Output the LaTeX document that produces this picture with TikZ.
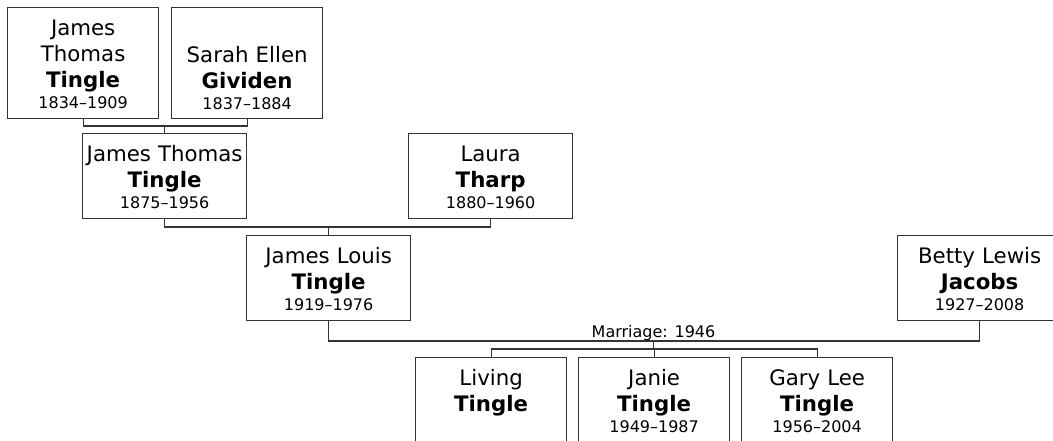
\documentclass[tikz,border=0pt]{standalone}
\usepackage{fontspec}
\setmainfont{DejaVu Sans}
\newcommand{\lifespan}[1]{\\[-5pt]{\fontsize{16}{16}\selectfont #1}}
\begin{document}
\begin{tikzpicture}[x=1pt, y=-1pt, line width=1.3pt,
  every node/.style={font=\fontsize{21.3}{26}\selectfont},
  person/.style={draw=black!80, anchor=north west, inner sep=0pt, align=center, text height=28pt},
  tall/.style={person, text width=151pt, text depth=83pt},
  wide/.style={person, text width=164pt, text depth=57pt},
  child/.style={person, text width=151pt, text depth=70pt},
  link/.style={draw=black!80}]
\useasboundingbox (0,0) rectangle (1053,441); \clip (0,0) rectangle (1053,441);
% grandparents' parents
\node[tall] (jtA) at (7,7) {James\\Thomas\\\textbf{Tingle}\lifespan{1834–1909}};
\node[tall, text height=55pt, text depth=56pt] (seG) at (171,7) {Sarah Ellen\\\textbf{Gividen}\lifespan{1837–1884}};
% grandparents
\node[wide] (jtB) at (82,133) {James Thomas\\\textbf{Tingle}\lifespan{1875–1956}};
\node[wide] (lT) at (408,133) {Laura\\\textbf{Tharp}\lifespan{1880–1960}};
% parents
\node[wide] (jL) at (246,235) {James Louis\\\textbf{Tingle}\lifespan{1919–1976}};
\node[wide] (bJ) at (897,235) {Betty Lewis\\\textbf{Jacobs}\lifespan{1927–2008}};
% children
\node[child] (lv) at (415,357) {Living\\\textbf{Tingle}};
\node[child] (jn) at (578,357) {Janie\\\textbf{Tingle}\lifespan{1949–1987}};
\node[child] (gL) at (741,357) {Gary Lee\\\textbf{Tingle}\lifespan{1956–2004}};
% couples and descent lines
\coordinate (c1) at (164,126); \coordinate (c2) at (328,227);
\coordinate (c3) at (653.5,341); \coordinate (kids) at (653.5,349);
\draw[link] (jtA.south) |- (c1) -| (seG.south); \draw[link] (jtB.north) -- (jtB.north |- c1);
\draw[link] (jtB.south) |- (c2) -| (lT.south); \draw[link] (jL.north) -- (jL.north |- c2);
\draw[link] (jL.south) |- (c3) -| (bJ.south); \draw[link] (c3) -- (kids);
\draw[link] (lv.north) |- (kids) -| (gL.north); \draw[link] (jn.north) -- (jn.north |- kids);
\node[font=\fontsize{16}{16}\selectfont, anchor=base] (mar) at (653.5,337) {Marriage: 1946};
\end{tikzpicture}
\end{document}
